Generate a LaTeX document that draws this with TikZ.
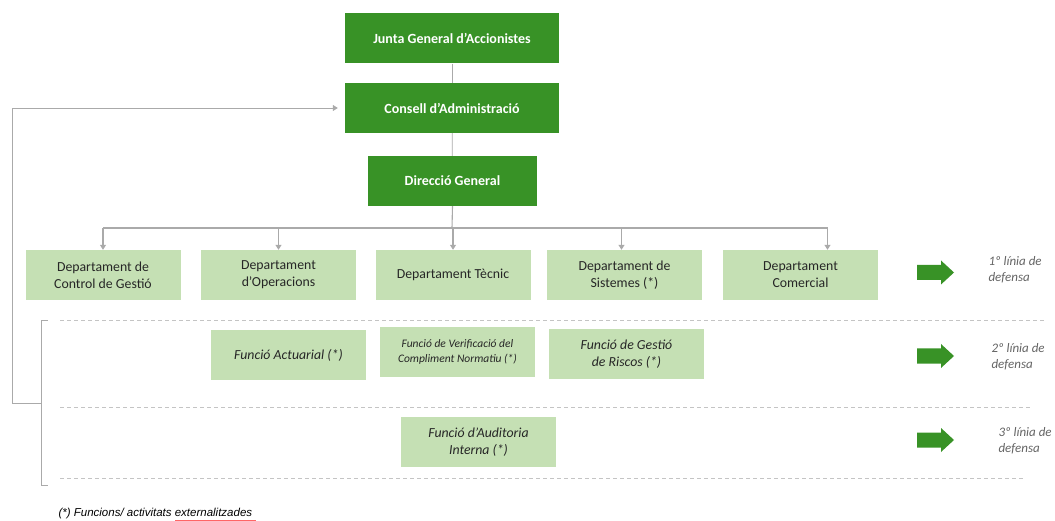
\documentclass[tikz,border=0pt]{standalone}
\usepackage{fontspec}
\setmainfont{Carlito}
\newfontfamily\notefont{Liberation Sans}
\usepackage{xcolor}
\usetikzlibrary{arrows.meta}
\definecolor{organgreen}{RGB}{56,146,38}
\definecolor{deptgreen}{RGB}{197,224,180}
\definecolor{linkgray}{RGB}{170,170,170}
\definecolor{sepgray}{RGB}{196,196,196}
\definecolor{labelgray}{RGB}{100,100,100}

\begin{document}
\begin{tikzpicture}
      [x=1pt, y=-1pt,
      organ/.style={rectangle, fill=organgreen, text=white, align=center,
        minimum width=214pt, minimum height=50pt,
        font=\bfseries\fontsize{14}{16}\selectfont},
      dept/.style={rectangle, fill=deptgreen, text=black!85, align=center,
        minimum width=155pt, minimum height=50pt,
        font=\fontsize{13.8}{17}\selectfont},
      func/.style={dept, font=\itshape\fontsize{13.8}{17}\selectfont},
      link/.style={draw=linkgray, line width=1.1pt},
      down/.style={link, -{Triangle[length=5pt,width=6pt]}},
      sep/.style={draw=sepgray, line width=0.8pt, dash pattern=on 4pt off 3pt},
      linelabel/.style={anchor=west, align=left, text=labelgray,
        font=\itshape\fontsize{13}{16}\selectfont},
      greenarrow/.pic={\fill[organgreen] (0,-7.5) -- (24,-7.5) -- (24,-12)
        -- (37,0) -- (24,12) -- (24,7.5) -- (0,7.5) -- cycle;},
      ]
      \useasboundingbox (0,0) rectangle (1055,521);

      % governing bodies
      \node[organ] (junta) at (452,38.5) {Junta General d'Accionistes};
      \node[organ] (cons) at (452,108) {Consell d'Administració};
      \node[organ, minimum width=169pt] (dir) at (452.5,181) {Direcció General};

      % first line
      \node[dept] (cg) at (103,275) {Departament de\\Control de Gestió};
      \node[dept] (ops) at (278.5,275) {Departament\\d'Operacions};
      \node[dept] (tec) at (453,275) {Departament Tècnic};
      \node[dept] (sis) at (624.5,275) {Departament de\\Sistemes (*)};
      \node[dept] (com) at (800.5,275) {Departament\\Comercial};

      % second and third line
      \node[func] (act) at (288.5,355) {Funció Actuarial (*)};
      \node[func, font=\itshape\fontsize{11.5}{15}\selectfont] (ver) at (457.5,352)
        {Funció de Verificació del\\Compliment Normatiu (*)};
      \node[func] (risc) at (626.5,354) {Funció de Gestió\\de Riscos (*)};
      \node[func] (aud) at (478.5,442) {Funció d'Auditoria\\Interna (*)};

      \coordinate (bus) at (452,228);
      \draw[link, line width=0.7pt] (junta) -- (cons);
      \draw[link, line width=0.7pt] (cons) -- (dir);
      \draw[link] (dir.south) -- (bus);
      \draw[link] (cg.north |- bus) -- ([xshift=27pt]com.north |- bus);
      \draw[down] (cg.north |- bus) -- (cg.north);
      \draw[down] (ops.north |- bus) -- (ops.north);
      \draw[down] (tec.north |- bus) -- (tec.north);
      \draw[down] ([xshift=-3pt]sis.north |- bus) -- ([xshift=-3pt]sis.north);
      \draw[down] ([xshift=27pt]com.north |- bus) -- ([xshift=27pt]com.north);

      % separators and bracket
      \draw[sep] (60,320) -- (1045,320);
      \draw[sep] (60,407) -- (1032,407);
      \draw[sep] (60,478) -- (1025,478);
      \draw[link, line width=0.7pt] (48,320) -- (41,320) -- (41,485) -- (48,485);
      \coordinate (brk) at (41,403);
      \draw[down, line width=0.7pt] (brk) -- ++(-29,0) |- ([xshift=-7pt]cons.west);

      % lines of defence
      \pic at (917,272.5) {greenarrow};
      \pic at (917,356) {greenarrow};
      \pic at (917,440) {greenarrow};
      \node[linelabel] (l1) at (985,270) {1º línia de\\defensa};
      \node[linelabel] (l2) at (988,357) {2º línia de\\defensa};
      \node[linelabel] (l3) at (995,441) {3º línia de\\defensa};

      \node[anchor=west, font=\notefont\itshape\fontsize{11.5}{13}\selectfont] (note)
        at (55,514) {(*) Funcions/ activitats externalitzades};
      \draw[red!60, line width=0.6pt] (175,520) -- (note.east |- 0,520);
\end{tikzpicture}
\end{document}
